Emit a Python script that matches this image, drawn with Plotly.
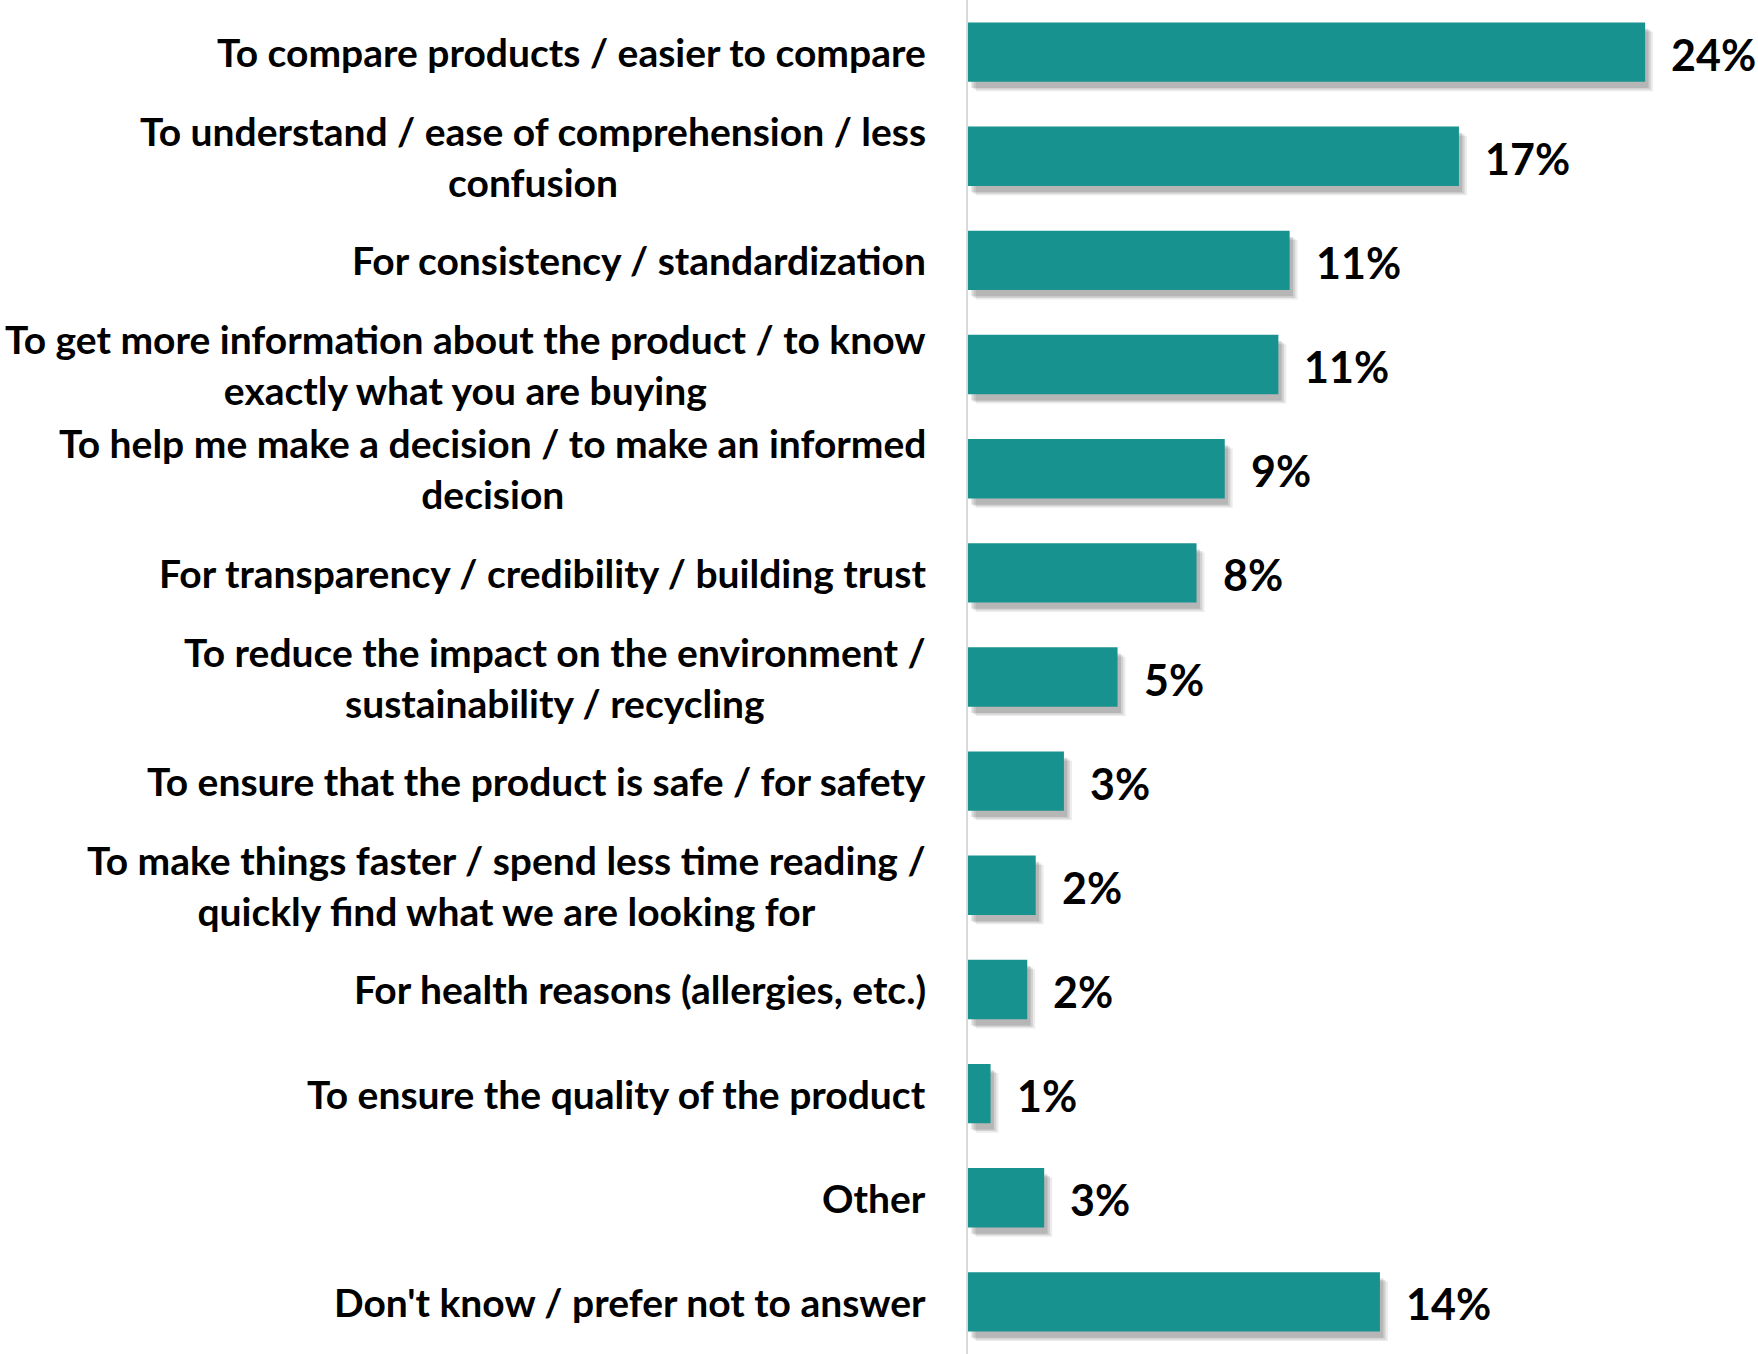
import plotly.graph_objects as go

categories = [
    "To compare products / easier to compare",
    "To understand / ease of comprehension / less<br>confusion",
    "For consistency / standardization",
    "To get more information about the product / to know<br>exactly what you are buying",
    "To help me make a decision / to make an informed<br>decision",
    "For transparency / credibility / building trust",
    "To reduce the impact on the environment /<br>sustainability / recycling",
    "To ensure that the product is safe / for safety",
    "To make things faster / spend less time reading /<br>quickly find what we are looking for",
    "For health reasons (allergies, etc.)",
    "To ensure the quality of the product",
    "Other",
    "Don't know / prefer not to answer",
]
values = [24.0, 17.4, 11.4, 11.0, 9.1, 8.1, 5.3, 3.4, 2.4, 2.1, 0.8, 2.7, 14.6]
value_labels = ["24%", "17%", "11%", "11%", "9%", "8%", "5%", "3%", "2%", "2%", "1%", "3%", "14%"]

FONT = "Lato"
BAR_COLOR = "#18928F"

fig = go.Figure()

# soft drop shadow layers
for i, (sh, op) in enumerate([(0.28, 0.10), (0.2, 0.14), (0.12, 0.18)]):
    fig.add_trace(go.Bar(
        y=categories, x=values, base=[sh] * len(values), orientation="h",
        marker=dict(color=f"rgba(60,60,60,{op})", line=dict(width=0)),
        width=0.57, offset=-0.285 + 0.06 + 0.015 * (2 - i),
        hoverinfo="skip", showlegend=False,
    ))

fig.add_trace(go.Bar(
    y=categories, x=values, orientation="h",
    marker=dict(color=BAR_COLOR, line=dict(width=0)),
    width=0.57, offset=-0.285, showlegend=False,
))

annotations = []
for c, v, lab in zip(categories, values, value_labels):
    annotations.append(dict(
        x=v, y=c, xref="x", yref="y", text=lab, showarrow=False,
        xanchor="left", yanchor="middle", xshift=24, yshift=-2,
        font=dict(family=FONT, size=43, color="#000000", weight="bold"),
    ))
    annotations.append(dict(
        x=0, y=c, xref="paper", yref="y", text=c, showarrow=False,
        xanchor="right", yanchor="middle", xshift=-40, align="center",
        font=dict(family=FONT, size=39, color="#000000", weight="bold"),
    ))

fig.update_layout(
    width=1758, height=1354,
    margin=dict(l=968, r=0, t=0, b=0),
    paper_bgcolor="white", plot_bgcolor="white",
    barmode="overlay", bargap=0.43,
    showlegend=False,
    annotations=annotations,
    xaxis=dict(range=[0, 28.0], showgrid=False, zeroline=False,
               showticklabels=False, showline=False, fixedrange=True),
    yaxis=dict(range=[12.5, -0.5], showticklabels=False, showgrid=False,
               zeroline=False, showline=True, linecolor="#d9d9d9", linewidth=2,
               ticks=""),
)

fig.write_html("out.html", config={"displayModeBar": False},
               post_script="document.body.style.margin='0px';")
